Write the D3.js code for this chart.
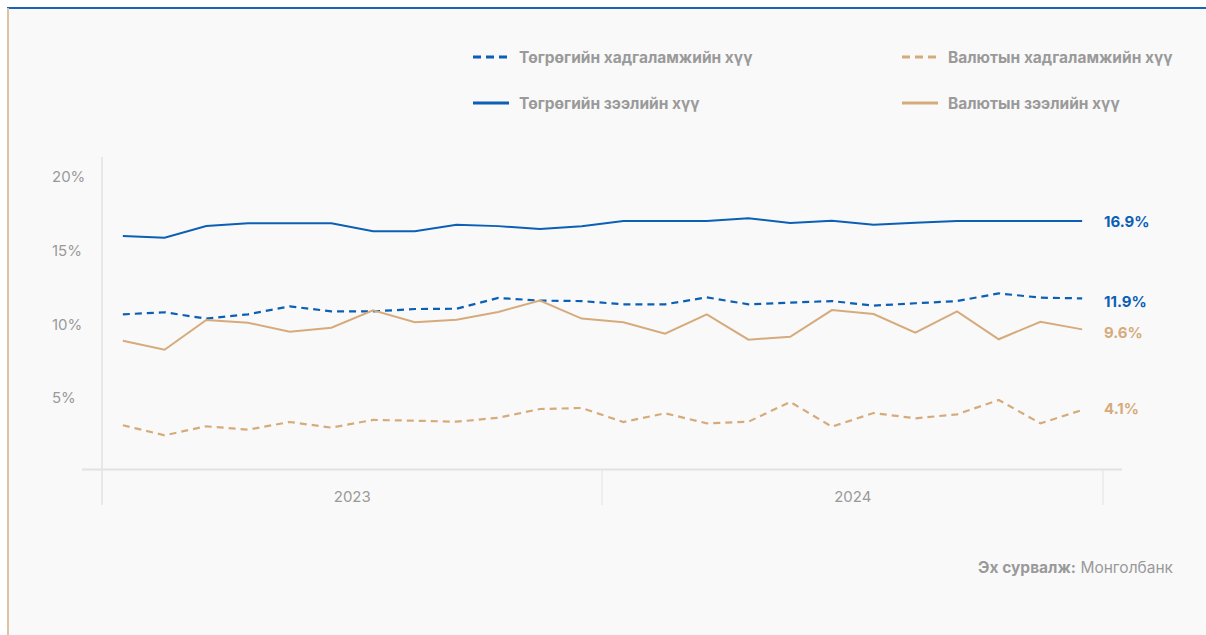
<!DOCTYPE html>
<html>
<head>
<meta charset="utf-8">
<script src="https://d3js.org/d3.v7.min.js"></script>
<style>
  body { margin: 0; background: #fff; }
  text { font-family: Inter, "Noto Sans", sans-serif; }
</style>
</head>
<body>
<svg id="chart" width="1206" height="635"></svg>
<script>
// monthly rates, Jan 2023 .. Dec 2024
const years = ["2023", "2024"];
const months = d3.range(24);
const yTicks = [5, 10, 15, 20];

const mntDeposit = [10.52, 10.66, 10.23, 10.52, 11.06, 10.72, 10.72, 10.88, 10.9, 11.63, 11.45, 11.42,
                    11.2, 11.2, 11.67, 11.2, 11.31, 11.42, 11.11, 11.27, 11.42, 11.94, 11.65, 11.6];
const fxDeposit = [3.0, 2.32, 2.93, 2.7, 3.22, 2.84, 3.36, 3.31, 3.24, 3.51, 4.1, 4.17,
                   3.22, 3.81, 3.13, 3.24, 4.58, 2.9, 3.83, 3.47, 3.74, 4.71, 3.13, 4.03];
const mntLoan = [15.83, 15.72, 16.51, 16.69, 16.69, 16.69, 16.15, 16.15, 16.6, 16.5, 16.3, 16.49,
                 16.85, 16.85, 16.85, 17.03, 16.71, 16.87, 16.6, 16.73, 16.85, 16.85, 16.85, 16.85];
const fxLoan = [8.73, 8.12, 10.14, 9.95, 9.34, 9.61, 10.79, 9.98, 10.16, 10.68, 11.45, 10.23,
                9.98, 9.21, 10.52, 8.8, 9.0, 10.81, 10.54, 9.28, 10.72, 8.83, 10.02, 9.5];

const names = ["Төгрөгийн хадгаламжийн хүү", "Валютын хадгаламжийн хүү",
               "Төгрөгийн зээлийн хүү", "Валютын зээлийн хүү"];
const endLabels = ["11.9%", "4.1%", "16.9%", "9.6%"];

const blue = "#0b5fb5", tan = "#d6ab7c", grey = "#9a9a9a";
const series = [
  { name: names[0], values: mntDeposit, color: blue, dash: "7,5", label: endLabels[0], dy: 4 },
  { name: names[1], values: fxDeposit, color: tan, dash: "7,5", label: endLabels[1], dy: -1 },
  { name: names[2], values: mntLoan, color: blue, dash: null, label: endLabels[2], dy: 1 },
  { name: names[3], values: fxLoan, color: tan, dash: null, label: endLabels[3], dy: 4 }
];

const svg = d3.select("#chart");

// panel + borders
svg.append("rect").attr("x", 8).attr("y", 8).attr("width", 1198).attr("height", 627).attr("fill", "#f9f9f9");
svg.append("line").attr("x1", 7).attr("x2", 1206).attr("y1", 8).attr("y2", 8)
   .attr("stroke", "#1e63b3").attr("stroke-width", 2);
svg.append("line").attr("x1", 8).attr("x2", 8).attr("y1", 8).attr("y2", 635)
   .attr("stroke", "#dcc3a2").attr("stroke-width", 2);

const x = d3.scaleBand().domain(months).range([102, 1103]);
const xYear = d3.scaleBand().domain(years).range([102, 1103]);
const y = d3.scaleLinear().domain([0, 20]).range([469.5, 174.5]);

// axis lines
svg.append("line").attr("x1", 82).attr("x2", 1122).attr("y1", 469.5).attr("y2", 469.5)
   .attr("stroke", "#e2e2e2").attr("stroke-width", 2);
svg.append("line").attr("x1", 102).attr("x2", 102).attr("y1", 157).attr("y2", 505)
   .attr("stroke", "#e2e2e2").attr("stroke-width", 1.5);
svg.selectAll(".ytick").data([602, 1103]).join("line")
   .attr("x1", d => d).attr("x2", d => d).attr("y1", 470).attr("y2", 505)
   .attr("stroke", "#e2e2e2").attr("stroke-width", 1);

// y labels
svg.selectAll(".ylab").data(yTicks).join("text")
   .attr("x", 52).attr("y", d => y(d) + 7.5)
   .attr("font-size", 15).attr("fill", grey)
   .text(d => d + "%");

// x labels
svg.selectAll(".xlab").data(years).join("text")
   .attr("x", d => xYear(d) + xYear.bandwidth() / 2).attr("y", 502)
   .attr("text-anchor", "middle").attr("font-size", 15).attr("fill", grey)
   .text(d => d);

const line = d3.line().x((d, i) => x(i) + x.bandwidth() / 2).y(d => y(d));

svg.selectAll(".series").data(series).join("path")
   .attr("d", d => line(d.values))
   .attr("fill", "none")
   .attr("stroke", d => d.color)
   .attr("stroke-width", d => d.dash ? 2.2 : 2)
   .attr("stroke-dasharray", d => d.dash);

svg.selectAll(".endlab").data(series).join("text")
   .attr("x", 1104)
   .attr("y", d => y(d.values[d.values.length - 1]) + d.dy + 5)
   .attr("font-size", 15).attr("font-weight", 700)
   .attr("fill", d => d.color)
   .text(d => d.label);

// legend
const legPos = [[473, 57], [902, 57], [473, 103], [902, 103]];
const leg = svg.selectAll(".leg").data(series).join("g")
   .attr("transform", (d, i) => `translate(${legPos[i][0]},${legPos[i][1]})`);
leg.append("line").attr("x1", 0).attr("x2", 36).attr("y1", 0).attr("y2", 0)
   .attr("stroke", d => d.color).attr("stroke-width", 3)
   .attr("stroke-dasharray", d => d.dash ? "8,5" : null);
leg.append("text").attr("x", 46).attr("y", 5.5)
   .attr("font-size", 15.5).attr("font-weight", 700).attr("fill", grey)
   .text(d => d.name);

// source
const src = svg.append("text").attr("x", 1173).attr("y", 573)
   .attr("text-anchor", "end").attr("font-size", 15.5).attr("fill", grey);
src.append("tspan").attr("font-weight", 700).text("Эх сурвалж:");
src.append("tspan").text(" Монголбанк");
</script>
</body>
</html>
